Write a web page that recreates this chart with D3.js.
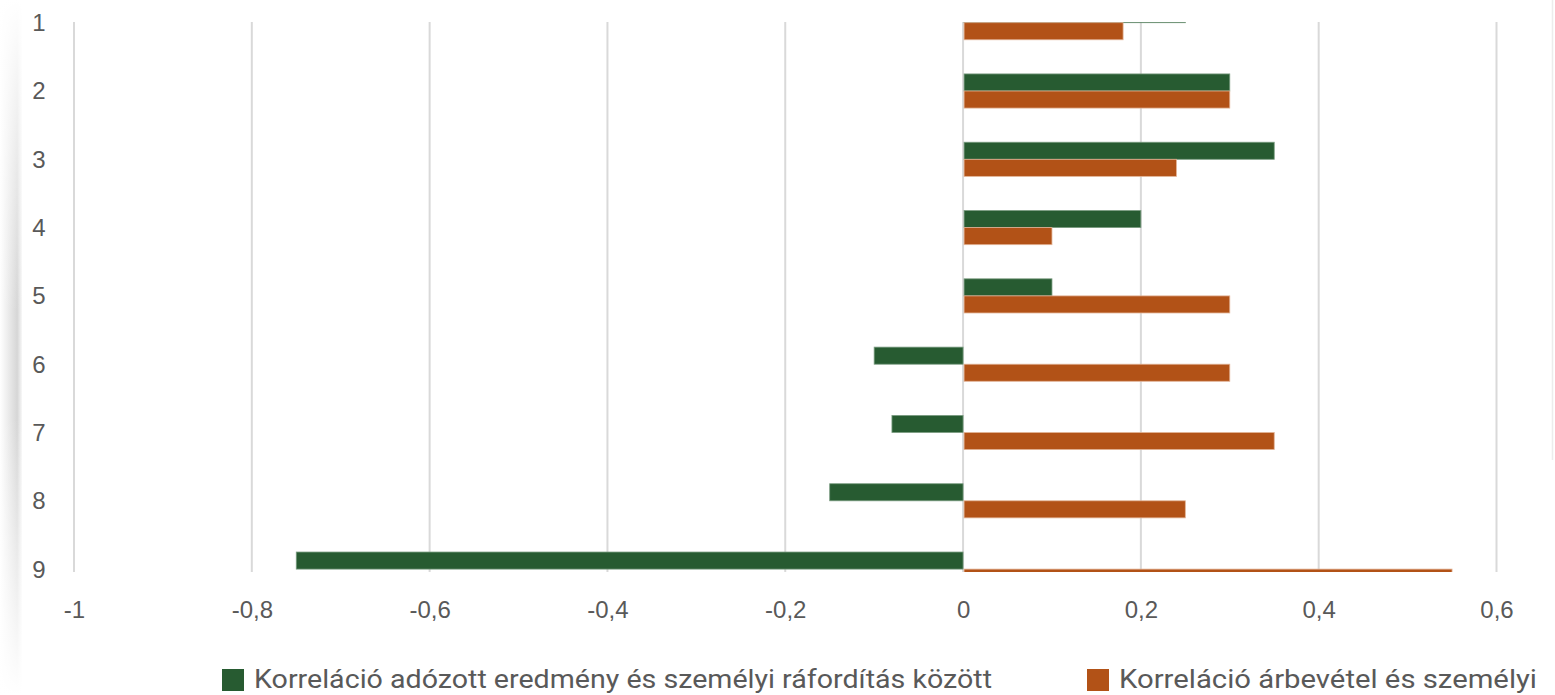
<!DOCTYPE html>
<html><head><meta charset="utf-8">
<script src="https://cdn.jsdelivr.net/npm/d3@7"></script>
<style>
html,body{margin:0;padding:0;background:#fff;overflow:hidden;}
svg{display:block;}
</style></head>
<body>
<svg id="chart" width="1555" height="695"></svg>
<script>
const categories = ["1","2","3","4","5","6","7","8","9"];
const seriesNames = [
  "Korreláció adózott eredmény és személyi ráfordítás között",
  "Korreláció árbevétel és személyi"
];
const profitCorr = [0.25, 0.30, 0.35, 0.20, 0.10, -0.10, -0.08, -0.15, -0.75];
const revenueCorr = [0.18, 0.30, 0.24, 0.10, 0.30, 0.30, 0.35, 0.25, 0.55];
const xTicks = [-1, -0.8, -0.6, -0.4, -0.2, 0, 0.2, 0.4, 0.6];
const colors = ["#275b31", "#b25217"];

const svg = d3.select("#chart");
const W = 1555, H = 695;

// edge shadows
const defs = svg.append("defs");
const lg = defs.append("linearGradient").attr("id","lsh").attr("x1","0").attr("x2","1");
lg.append("stop").attr("offset","0").attr("stop-color","#fff");
lg.append("stop").attr("offset","0.75").attr("stop-color","#d6d6d6");
lg.append("stop").attr("offset","1").attr("stop-color","#fff");
const vg = defs.append("linearGradient").attr("id","lmask").attr("x1","0").attr("x2","0").attr("y1","0").attr("y2","1");
vg.append("stop").attr("offset","0").attr("stop-color","#fff").attr("stop-opacity",1);
vg.append("stop").attr("offset","0.45").attr("stop-color","#fff").attr("stop-opacity",0);
vg.append("stop").attr("offset","0.6").attr("stop-color","#fff").attr("stop-opacity",0);
vg.append("stop").attr("offset","1").attr("stop-color","#fff").attr("stop-opacity",1);
svg.append("rect").attr("x",0).attr("y",0).attr("width",23).attr("height",H).attr("fill","url(#lsh)");
svg.append("rect").attr("x",0).attr("y",0).attr("width",23).attr("height",H).attr("fill","url(#lmask)");
svg.append("rect").attr("x",22).attr("y",0).attr("width",W-22).attr("height",H).attr("fill","#fff");
svg.append("line").attr("x1",1552.5).attr("x2",1552.5).attr("y1",0).attr("y2",460)
  .attr("stroke","#ececec").attr("stroke-width",1.5);

const plotTop = 22, plotBottom = 572;
const x = d3.scaleLinear().domain([-1, 0.6]).range([74, 1496.5]);
const y = d3.scaleBand().domain(categories).range([-11.45, 603.25]).paddingInner(0.5).paddingOuter(0.25);

defs.append("clipPath").attr("id","plotclip").append("rect")
  .attr("x",0).attr("y",plotTop).attr("width",W).attr("height",plotBottom-plotTop);

// gridlines
svg.append("g").selectAll("line").data(xTicks).join("line")
  .attr("x1",d=>x(d)).attr("x2",d=>x(d))
  .attr("y1",plotTop).attr("y2",plotBottom)
  .attr("stroke","#d9d9d9").attr("stroke-width",2);

// bars
const bars = svg.append("g").attr("clip-path","url(#plotclip)");
const bw = y.bandwidth()/2;
[profitCorr, revenueCorr].forEach((vals, si) => {
  bars.append("g").selectAll("rect").data(vals).join("rect")
    .attr("x", d => Math.min(x(0), x(d)) + (d>0 ? 1 : 0))
    .attr("width", d => Math.abs(x(d)-x(0)) - (d>0?1:0))
    .attr("y", (d,i) => y(categories[i]) + si*bw)
    .attr("height", bw)
    .attr("fill", colors[si])
    .attr("stroke", si===0 ? "#7a9c80" : "#e2b396")
    .attr("stroke-width", 0.8);
});

// y category labels
svg.append("g").selectAll("text").data(categories).join("text")
  .attr("x", 39).attr("y", d => y(d) + y.bandwidth()/2)
  .attr("dy","0.35em").attr("text-anchor","middle")
  .attr("font-family","Liberation Sans, Arial, sans-serif").attr("font-size",24)
  .attr("fill","#595959").text(d=>d);

// x axis
const xAxis = d3.axisBottom(x).tickValues(xTicks).tickSize(0)
  .tickFormat(d => String(+d.toFixed(1)).replace(".",","));
const ax = svg.append("g").attr("transform",`translate(0,${plotBottom})`).call(xAxis);
ax.select(".domain").remove();
ax.selectAll("text").attr("dy",0).attr("y",46)
  .attr("font-family","Liberation Sans, Arial, sans-serif").attr("font-size",24).attr("fill","#595959");

// legend
const legendX = [222, 1087];
const legendLen = [738, 418];
const lgG = svg.append("g");
seriesNames.forEach((n, i) => {
  const g = lgG.append("g").attr("transform",`translate(${legendX[i]},669)`);
  g.append("rect").attr("width",22).attr("height",22).attr("fill",colors[i]);
  g.append("text").attr("x",32).attr("y",19)
    .attr("font-family","Roboto, sans-serif").attr("font-size",25).attr("fill","#595959")
    .attr("textLength", legendLen[i]).attr("lengthAdjust","spacingAndGlyphs")
    .text(n);
});
</script>
</body></html>
